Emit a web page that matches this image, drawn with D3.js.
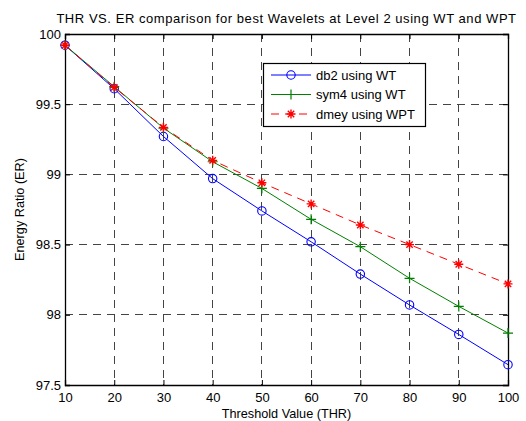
<!DOCTYPE html>
<html><head><meta charset="utf-8">
<script src="https://cdn.jsdelivr.net/npm/d3@7"></script>
<style>body{margin:0;background:#fff}svg{display:block}text{font-family:"Liberation Sans",Arial,sans-serif;fill:#000}</style>
</head><body>
<svg id="c" width="526" height="421"></svg>
<script>
const thresholds = [10,20,30,40,50,60,70,80,90,100];
const db2WT  = [99.92,99.61,99.27,98.97,98.74,98.52,98.29,98.07,97.86,97.645];
const sym4WT = [99.92,99.625,99.33,99.09,98.90,98.68,98.485,98.26,98.06,97.87];
const dmeyWPT= [99.92,99.62,99.335,99.10,98.94,98.79,98.64,98.50,98.36,98.22];
const xTicks = [10,20,30,40,50,60,70,80,90,100];
const yTicks = [97.5,98,98.5,99,99.5,100];
const seriesNames = ["db2 using WT","sym4 using WT","dmey using WPT"];
const titleText = "THR VS. ER comparison for best Wavelets at Level 2 using WT and WPT";

const svg = d3.select("#c");
const L=65,R=508,T=34,B=385;
const x = d3.scaleLinear().domain([10,100]).range([L,R]);
const y = d3.scaleLinear().domain([97.5,100]).range([B,T]);

// grid
const g = svg.append("g");
g.selectAll(".vg").data(xTicks.slice(1,-1)).enter().append("line")
 .attr("x1",d=>x(d)).attr("x2",d=>x(d)).attr("y1",T).attr("y2",B)
 .attr("stroke","#444").attr("stroke-width",1).attr("stroke-dasharray","8,6").attr("shape-rendering","crispEdges");
g.selectAll(".hg").data(yTicks.slice(1,-1)).enter().append("line")
 .attr("y1",d=>y(d)).attr("y2",d=>y(d)).attr("x1",L).attr("x2",R)
 .attr("stroke","#444").attr("stroke-width",1).attr("stroke-dasharray","8,6").attr("shape-rendering","crispEdges");

// axes
svg.append("g").attr("transform",`translate(0,${B})`)
 .call(d3.axisBottom(x).tickValues(xTicks).tickSize(-5).tickPadding(8).tickFormat(d3.format("d")));
svg.append("g").attr("transform",`translate(${L},0)`)
 .call(d3.axisLeft(y).tickValues(yTicks).tickSize(-5).tickPadding(4).tickFormat(d=>String(d)));
svg.append("g").attr("transform",`translate(0,${T})`)
 .call(d3.axisTop(x).tickValues(xTicks).tickSize(-5).tickFormat(""));
svg.append("g").attr("transform",`translate(${R},0)`)
 .call(d3.axisRight(y).tickValues(yTicks).tickSize(-5).tickFormat(""));
svg.selectAll(".domain").attr("stroke","#000").attr("stroke-width",1.3);
svg.selectAll(".tick line").attr("stroke","#000");
svg.selectAll(".tick text").attr("font-size",13).attr("font-family","Liberation Sans, Arial, sans-serif").attr("fill","#000");

// lines
const data = [
 {name:seriesNames[0], vals:db2WT, color:"#0000ff", dash:null, marker:"circle"},
 {name:seriesNames[1], vals:sym4WT, color:"#008000", dash:null, marker:"plus"},
 {name:seriesNames[2], vals:dmeyWPT, color:"#ff0000", dash:"8,6", marker:"star"}
];
const line = d3.line().x((d,i)=>x(thresholds[i])).y(d=>y(d));
function drawMarker(sel, type, color){
  if(type==="circle"){
    sel.append("circle").attr("r",4.2).attr("fill","none").attr("stroke",color).attr("stroke-width",1.1);
  } else if(type==="plus"){
    sel.append("path").attr("d","M-5,0H5M0,-5V5").attr("stroke",color).attr("stroke-width",1.2);
  } else {
    sel.append("path").attr("d","M-4.5,0H4.5M0,-4.5V4.5M-3.2,-3.2L3.2,3.2M-3.2,3.2L3.2,-3.2").attr("stroke",color).attr("stroke-width",1.4);
  }
}
data.forEach(s=>{
  svg.append("path").attr("d",line(s.vals)).attr("fill","none").attr("stroke",s.color)
   .attr("stroke-width",1).attr("stroke-dasharray",s.dash);
  s.vals.forEach((v,i)=>{
    const m = svg.append("g").attr("transform",`translate(${x(thresholds[i])},${y(v)})`);
    drawMarker(m,s.marker,s.color);
  });
});

// legend
const lg = svg.append("g");
lg.append("rect").attr("x",263.5).attr("y",63.5).attr("width",162).attr("height",63)
 .attr("fill","#fff").attr("stroke","#000").attr("stroke-width",1.2);
data.forEach((s,i)=>{
  const yy = 75 + i*19.5;
  lg.append("line").attr("x1",271).attr("x2",311).attr("y1",yy).attr("y2",yy)
   .attr("stroke",s.color).attr("stroke-width",1).attr("stroke-dasharray",s.dash);
  const m = lg.append("g").attr("transform",`translate(291,${yy})`);
  drawMarker(m,s.marker,s.color);
  lg.append("text").attr("x",316).attr("y",yy+4.5).attr("font-size",13).text(s.name);
});

// titles
svg.append("text").attr("x",(L+R)/2+0).attr("y",23).attr("text-anchor","middle").attr("font-size",13).attr("letter-spacing",0.55).text(titleText);
svg.append("text").attr("x",(L+R)/2).attr("y",418).attr("text-anchor","middle").attr("font-size",12.7).text("Threshold Value (THR)");
svg.append("text").attr("transform",`translate(24,${(T+B)/2}) rotate(-90)`).attr("text-anchor","middle").attr("font-size",12.7).text("Energy Ratio (ER)");
</script>
</body></html>
